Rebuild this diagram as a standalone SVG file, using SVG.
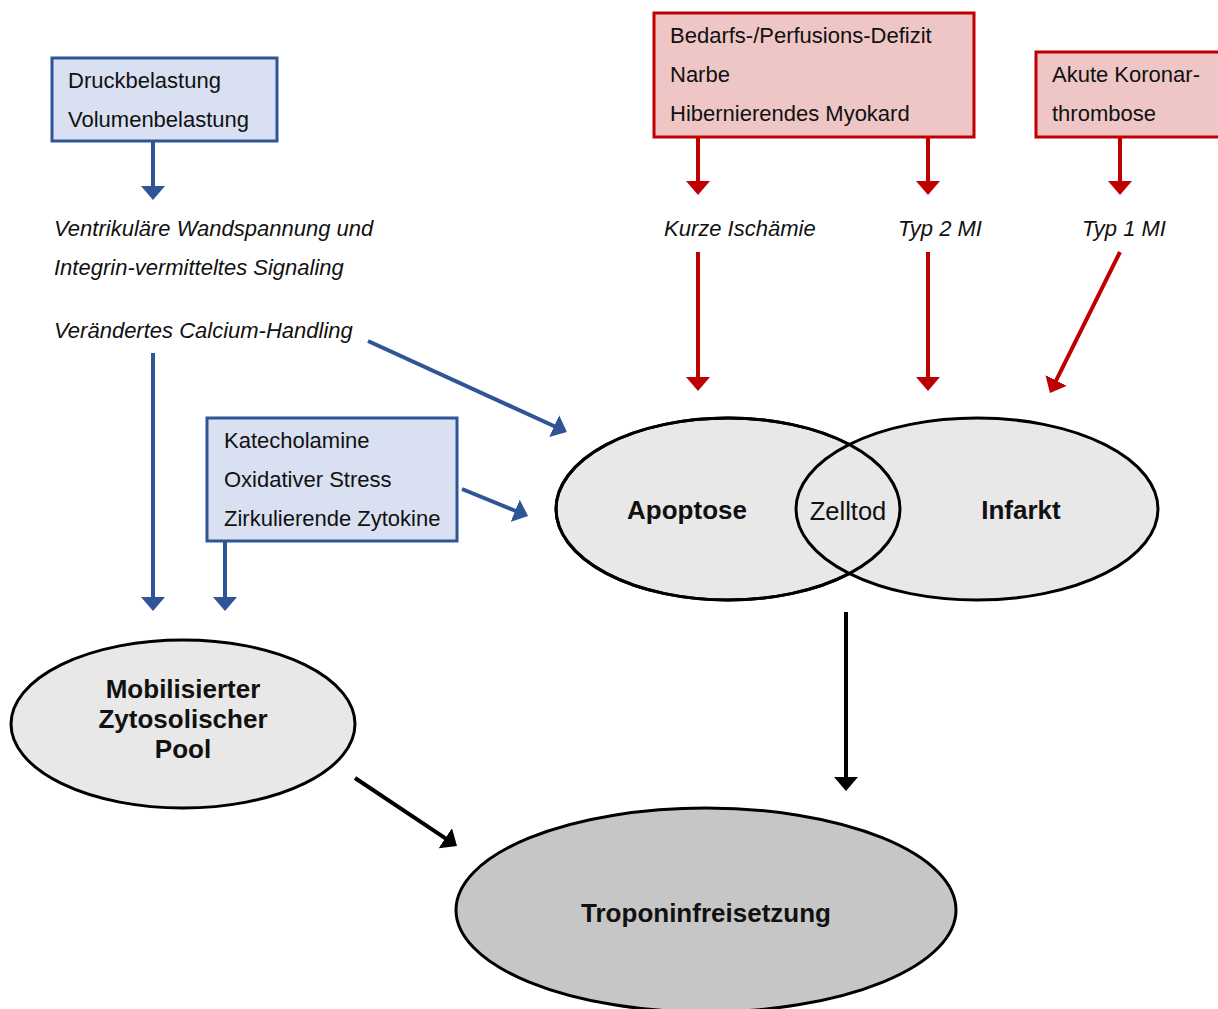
<svg xmlns="http://www.w3.org/2000/svg" width="1218" height="1009" viewBox="0 0 1218 1009">
<style>
  text { font-family: "Liberation Sans", Arial, sans-serif; fill: #111; }
  .t { font-size: 22px; }
  .i { font-size: 22px; font-style: italic; }
  .b { font-size: 26px; font-weight: bold; text-anchor: middle; }
  .r { font-size: 25.5px; text-anchor: middle; }
  .bbox { fill: #d9e0f1; stroke: #2f5597; stroke-width: 3; }
  .rbox { fill: #efc6c6; stroke: #c00000; stroke-width: 3; }
  .ell { fill: #e8e8e8; stroke: #000; stroke-width: 3; }
  .out { fill: none; stroke: #000; stroke-width: 3; }
  .blue { stroke: #2f5597; stroke-width: 4; fill: none; marker-end: url(#ab); }
  .red { stroke: #c00000; stroke-width: 4; fill: none; marker-end: url(#ar); }
  .blk { stroke: #000; stroke-width: 4; fill: none; marker-end: url(#ak); }
</style>
<defs>
  <marker id="ab" viewBox="0 -12 14 24" refX="2" refY="0" markerWidth="14" markerHeight="24" markerUnits="userSpaceOnUse" orient="auto"><path d="M0,-12 L14,0 L0,12 z" fill="#2f5597"/></marker>
  <marker id="ar" viewBox="0 -12 14 24" refX="2" refY="0" markerWidth="14" markerHeight="24" markerUnits="userSpaceOnUse" orient="auto"><path d="M0,-12 L14,0 L0,12 z" fill="#c00000"/></marker>
  <marker id="ak" viewBox="0 -12 14 24" refX="2" refY="0" markerWidth="14" markerHeight="24" markerUnits="userSpaceOnUse" orient="auto"><path d="M0,-12 L14,0 L0,12 z" fill="#000"/></marker>
</defs>
<rect width="1218" height="1009" fill="#fff"/>

<g id="box-belastung">
  <rect class="bbox" x="52" y="58" width="225" height="83"/>
  <text class="t" x="68" y="88">Druckbelastung</text>
  <text class="t" x="68" y="127">Volumenbelastung</text>
</g>
<g id="text-wandspannung">
  <text class="i" x="54" y="236">Ventrikuläre Wandspannung und</text>
  <text class="i" x="54" y="275">Integrin-vermitteltes Signaling</text>
</g>
<g id="text-calcium">
  <text class="i" x="54" y="338">Verändertes Calcium-Handling</text>
</g>
<g id="box-katecholamine">
  <rect class="bbox" x="207" y="418" width="250" height="123"/>
  <text class="t" x="224" y="448">Katecholamine</text>
  <text class="t" x="224" y="487">Oxidativer Stress</text>
  <text class="t" x="224" y="526">Zirkulierende Zytokine</text>
</g>
<g id="box-defizit">
  <rect class="rbox" x="654" y="13" width="320" height="124"/>
  <text class="t" x="670" y="43">Bedarfs-/Perfusions-Defizit</text>
  <text class="t" x="670" y="82">Narbe</text>
  <text class="t" x="670" y="121">Hibernierendes Myokard</text>
</g>
<g id="box-thrombose">
  <rect class="rbox" x="1036" y="52" width="190" height="85"/>
  <text class="t" x="1052" y="82">Akute Koronar-</text>
  <text class="t" x="1052" y="121">thrombose</text>
</g>
<g id="text-ischaemie"><text class="i" x="664" y="236">Kurze Ischämie</text></g>
<g id="text-typ2"><text class="i" x="898" y="236">Typ 2 MI</text></g>
<g id="text-typ1"><text class="i" x="1082" y="236">Typ 1 MI</text></g>

<g id="node-apoptose">
  <ellipse class="ell" cx="728" cy="509" rx="172" ry="91"/>
</g>
<g id="node-infarkt">
  <ellipse class="ell" cx="977" cy="509" rx="181" ry="91"/>
</g>
<g id="node-zelltod">
  <ellipse class="out" cx="728" cy="509" rx="172" ry="91"/>
  <text class="b" x="687" y="519">Apoptose</text>
  <text class="b" x="1021" y="519">Infarkt</text>
  <text class="r" x="848" y="520">Zelltod</text>
</g>
<g id="node-pool">
  <ellipse class="ell" cx="183" cy="724" rx="172" ry="84"/>
  <text class="b" x="183" y="698">Mobilisierter</text>
  <text class="b" x="183" y="728">Zytosolischer</text>
  <text class="b" x="183" y="758">Pool</text>
</g>
<g id="node-troponin">
  <ellipse cx="706" cy="910" rx="250" ry="102" fill="#c6c6c6" stroke="#000" stroke-width="3"/>
  <text class="b" x="706" y="922">Troponinfreisetzung</text>
</g>

<g id="connectors">
  <line class="blue" x1="153" y1="141" x2="153" y2="188"/>
  <line class="blue" x1="153" y1="353" x2="153" y2="599"/>
  <line class="blue" x1="225" y1="541" x2="225" y2="599"/>
  <line class="blue" x1="368" y1="341" x2="556" y2="427"/>
  <line class="blue" x1="462" y1="489" x2="517" y2="511.5"/>
  <line class="red" x1="698" y1="137" x2="698" y2="183"/>
  <line class="red" x1="928" y1="137" x2="928" y2="183"/>
  <line class="red" x1="1120" y1="137" x2="1120" y2="183"/>
  <line class="red" x1="698" y1="252" x2="698" y2="379"/>
  <line class="red" x1="928" y1="252" x2="928" y2="379"/>
  <line class="red" x1="1120" y1="252" x2="1055.3" y2="382.2"/>
  <line class="blk" x1="846" y1="612" x2="846" y2="779"/>
  <line class="blk" x1="355" y1="778" x2="447" y2="839.3"/>
</g>
</svg>
